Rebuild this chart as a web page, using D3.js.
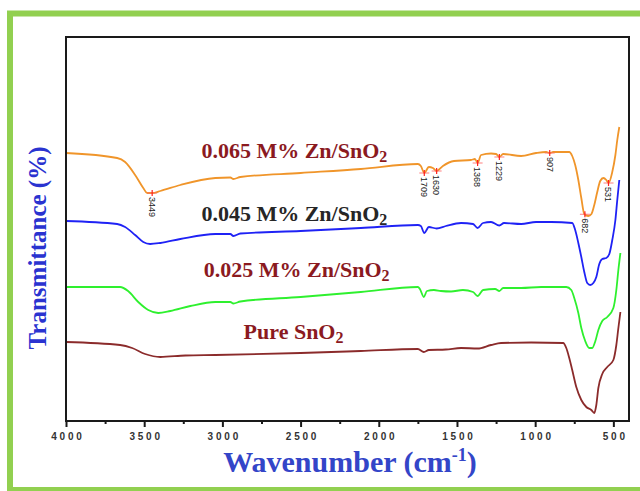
<!DOCTYPE html>
<html><head><meta charset="utf-8">
<script src="https://cdn.jsdelivr.net/npm/d3@7/dist/d3.min.js"></script>
<style>body{margin:0;background:#fff}svg{display:block}</style>
</head><body><svg id="chart" width="640" height="491"></svg>
<script>
// ---- data (wavenumber cm-1, transmittance a.u.) ----
const zn065 = [[4000,26.8],[3673,26.3],[3622,25.9],[3558,24.6],[3506,23.3],[3481,22.8],[3449,22.8],[3397,23.0],[3269,23.6],[3045,24.3],[2949,24.35],[2930,24.2],[2885,24.4],[2500,24.8],[2115,25.2],[1750,25.7],[1731,25.5],[1709,24.8],[1680,25.4],[1654,25.3],[1630,25.0],[1590,25.5],[1519,26.0],[1410,26.1],[1385,26.2],[1368,25.8],[1346,26.6],[1282,26.75],[1250,26.7],[1229,26.4],[1205,26.7],[1090,26.5],[994,26.8],[930,26.9],[907,26.8],[885,26.9],[782,26.9],[763,26.5],[744,25.6],[724,24.1],[705,22.3],[686,20.7],[660,20.5],[640,20.7],[622,21.6],[603,22.9],[584,24.0],[564,24.3],[545,24.1],[531,23.8],[507,24.9],[487,26.6],[475,28.1],[462,29.4]];
const zn045 = [[4000,20.0],[3673,19.7],[3622,19.4],[3558,18.6],[3506,17.9],[3462,17.7],[3397,17.8],[3269,18.2],[3045,18.7],[2949,18.7],[2930,18.5],[2885,18.75],[2500,19.0],[2115,19.3],[1750,19.6],[1731,19.5],[1709,18.8],[1680,19.4],[1630,19.25],[1571,19.5],[1474,19.8],[1397,19.7],[1368,19.3],[1333,19.8],[1282,19.9],[1229,19.55],[1199,19.8],[1090,19.7],[994,19.9],[898,19.9],[763,19.8],[744,19.1],[724,17.8],[705,16.4],[686,14.9],[667,13.8],[648,13.6],[628,13.8],[609,14.4],[590,15.7],[571,16.2],[545,16.3],[526,16.7],[507,18.1],[487,20.1],[475,22.1],[462,24.1]];
const zn025 = [[4000,13.4],[3654,13.4],[3603,13.0],[3538,11.9],[3474,11.1],[3410,10.8],[3333,11.0],[3205,11.5],[3045,11.9],[2949,11.9],[2930,11.75],[2885,11.95],[2500,12.4],[2115,12.9],[1750,13.4],[1737,13.2],[1712,12.4],[1692,13.0],[1647,13.1],[1603,13.0],[1538,12.95],[1462,13.1],[1397,12.9],[1368,12.5],[1333,13.1],[1256,13.2],[1229,13.0],[1205,13.3],[1090,13.3],[962,13.4],[801,13.4],[769,13.1],[750,12.3],[724,10.8],[705,9.3],[680,8.0],[654,7.3],[635,7.3],[615,8.0],[596,9.1],[571,10.0],[539,10.4],[500,11.3],[481,13.1],[468,15.1],[455,16.8]];
const pureSnO2 = [[4000,7.9],[3654,7.6],[3577,7.3],[3494,6.7],[3397,6.4],[3237,6.55],[3045,6.6],[2500,6.8],[2115,7.0],[1750,7.2],[1712,6.9],[1680,7.1],[1571,7.15],[1474,7.3],[1368,7.25],[1282,7.6],[1218,7.8],[1026,7.85],[821,7.8],[801,7.3],[782,6.3],[763,5.1],[737,3.4],[705,2.1],[673,1.4],[641,1.1],[622,0.8],[609,1.6],[596,3.3],[571,4.7],[539,5.4],[500,6.1],[481,7.6],[468,9.3],[455,10.9]];

const seriesNames = ["0.065 M% Zn/SnO", "0.045 M% Zn/SnO", "0.025 M% Zn/SnO", "Pure SnO"];
const seriesData = [zn065, zn045, zn025, pureSnO2];
const seriesColors = ["#f0952a", "#1f22f5", "#2ef02e", "#8b2b2b"];
const labelColors = ["#8b1a1f", "#262626", "#8b1a1f", "#8b1a1f"];
const labelAnchor = [[2540, 26.3], [2540, 20.0], [2525, 14.4], [2545, 8.2]]; // wn, T at label baseline

const peaks = [3449, 1709, 1630, 1368, 1229, 907, 682, 531];
const majorTicks = [4000, 3500, 3000, 2500, 2000, 1500, 1000, 500];
const minorTicks = [3750, 3250, 2750, 2250, 1750, 1250, 750];

// ---- layout ----
const svg = d3.select("#chart");
const L = 66, R = 629, T = 37, B = 421;
const x = d3.scaleLinear().domain([4000, 400]).range([L, R]);
const y = d3.scaleLinear().domain([0, 38.4]).range([B, T]);

// green outer border
svg.append("rect").attr("x", 10).attr("y", 13.5).attr("width", 700).attr("height", 476.5)
  .attr("fill", "none").attr("stroke", "#92d050").attr("stroke-width", 6);

// curves
const line = d3.line().x(d => x(d[0])).y(d => y(d[1])).curve(d3.curveMonotoneX);
seriesData.forEach((s, i) => {
  svg.append("path").datum(s).attr("d", line).attr("fill", "none")
    .attr("stroke", seriesColors[i]).attr("stroke-width", 1.8).attr("stroke-linejoin", "round");
});

// peak markers on top curve
const interp = (data, w) => {
  for (let k = 0; k < data.length - 1; k++) {
    const a = data[k], b = data[k + 1];
    if (w <= a[0] && w >= b[0]) { const t = (a[0] - w) / (a[0] - b[0]); return a[1] + t * (b[1] - a[1]); }
  }
  return data[data.length - 1][1];
};
peaks.forEach(p => {
  const px = x(p), py = y(interp(zn065, p));
  svg.append("line").attr("x1", px - 5).attr("x2", px + 5).attr("y1", py).attr("y2", py)
    .attr("stroke", "#ff6a6a").attr("stroke-width", 1.2).attr("opacity", 0.7);
  svg.append("line").attr("x1", px).attr("x2", px).attr("y1", py - 3).attr("y2", py + 3)
    .attr("stroke", "#ff2020").attr("stroke-width", 1.2);
  svg.append("text").attr("transform", `translate(${px},${py + 4}) rotate(90)`)
    .attr("dy", "0.35em").attr("font-family", "Liberation Sans, Arial, sans-serif")
    .attr("font-size", 9).attr("fill", "#1a1a1a").text(p);
});

// series labels
seriesNames.forEach((n, i) => {
  const t = svg.append("text").attr("x", x(labelAnchor[i][0])).attr("y", y(labelAnchor[i][1]))
    .attr("text-anchor", "middle").attr("font-family", "Liberation Serif, Times New Roman, serif")
    .attr("font-weight", "bold").attr("font-size", 22).attr("fill", labelColors[i]);
  t.append("tspan").text(n);
  t.append("tspan").attr("dy", 4).attr("font-size", 16).text("2");
});

// frame
svg.append("rect").attr("x", L).attr("y", T).attr("width", R - L).attr("height", B - T)
  .attr("fill", "none").attr("stroke", "#1a1a1a").attr("stroke-width", 2);

// bottom axis
const ax = svg.append("g").attr("transform", `translate(0,${B})`)
  .call(d3.axisBottom(x).tickValues(majorTicks).tickSize(6).tickFormat(d3.format("d")));
ax.select(".domain").remove();
ax.selectAll("line").attr("stroke", "#1a1a1a").attr("stroke-width", 2);
ax.selectAll("text").attr("font-family", "Liberation Sans, Arial, sans-serif").attr("font-weight", "bold")
  .attr("font-size", 10).attr("letter-spacing", "2.8px").attr("dx", "1.4px").attr("fill", "#333").attr("y", 12);
const axm = svg.append("g").attr("transform", `translate(0,${B})`)
  .call(d3.axisBottom(x).tickValues(minorTicks).tickSize(3).tickFormat(""));
axm.select(".domain").remove();
axm.selectAll("line").attr("stroke", "#1a1a1a").attr("stroke-width", 2);

// axis titles
const xt = svg.append("text").attr("x", 350).attr("y", 472).attr("text-anchor", "middle")
  .attr("font-family", "Liberation Serif, Times New Roman, serif").attr("font-weight", "bold")
  .attr("font-size", 30).attr("fill", "#3345c8");
xt.append("tspan").text("Wavenumber (cm");
xt.append("tspan").attr("dy", -11).attr("font-size", 18).text("-1");
xt.append("tspan").attr("dy", 11).text(")");

svg.append("text").attr("transform", "translate(46,248) rotate(-90)").attr("text-anchor", "middle")
  .attr("font-family", "Liberation Serif, Times New Roman, serif").attr("font-weight", "bold")
  .attr("font-size", 25).attr("fill", "#2a33d0").text("Transmittance (%)");
</script></body></html>
